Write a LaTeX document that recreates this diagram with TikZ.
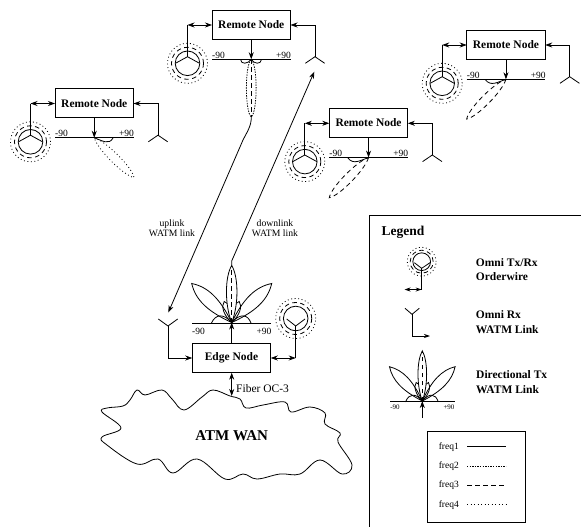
\documentclass[tikz,border=0pt]{standalone}
\usepackage{fontspec}
\setmainfont{Liberation Serif}
\usetikzlibrary{arrows.meta,calc}
\newcommand{\szbox}{\fontsize{11.5}{13}\selectfont\bfseries}
\tikzset{
  wire/.style={line width=0.8pt,black},
  tipped/.style={wire,{Stealth[length=7pt,width=5pt,inset=2.2pt]}-},
  tippedr/.style={wire,-{Stealth[length=7pt,width=5pt,inset=2.2pt]}},
  tippedb/.style={wire,{Stealth[length=7pt,width=5pt,inset=2.2pt]}-{Stealth[length=7pt,width=5pt,inset=2.2pt]}},
  nodebox/.style={draw,line width=0.9pt,minimum width=78.5pt,minimum height=29.4pt,inner sep=0pt,outer sep=0pt,font=\szbox},
  deg/.style={font=\fontsize{9.5}{10}\selectfont,inner sep=0pt},
  small/.style={font=\fontsize{9.7}{10}\selectfont,inner sep=0pt,align=center},
  legtext/.style={font=\szbox,inner sep=0pt,anchor=west},
  fstwo/.style={wire,dash pattern=on 1.4pt off 1.2pt},
  fsthree/.style={wire,dash pattern=on 4.5pt off 3.5pt},
  fsfour/.style={wire,dash pattern=on 0.9pt off 2.6pt},
}
\newcommand{\lobepath}[5]{(#1) .. controls ($(#1)!#4!(#2)!#3!90:(#2)$) and ($(#1)!#5!(#2)!#3!90:(#2)$) .. (#2) .. controls ($(#1)!#5!(#2)!#3!-90:(#2)$) and ($(#1)!#4!(#2)!#3!-90:(#2)$) .. (#1)}
\newcommand{\rings}[2]{%
  \draw[fsfour] (#1) circle (#2*20pt);
  \draw[fsthree] (#1) circle (#2*16pt);
  \draw[wire] (#1) circle (#2*12.3pt);
}
\newcommand{\remote}[4]{%
\begin{scope}[shift={(#2,#3)}]
  \node[nodebox] (#1) at (39.25,14.7) {Remote Node};
  \coordinate (#1-omni) at (-24.5,53.3);
  \coordinate (#1-oj) at (-24.5,46.7);
  \coordinate (#1-ot) at (-24.5,15);
  \coordinate (#1-aj) at (103,46.7);
  \coordinate (#1-at) at (103,15);
  \coordinate (#1-base) at (39.25,49.3);
  \rings{#1-omni}{1}
  \draw[wire] (-36.5,53.3) -- (#1-oj) -- (-12.5,53.3);
  \draw[tippedb] (#1.west |- #1-ot) -- (#1-ot);
  \draw[wire] (#1-ot) -- (#1-oj);
  \draw[tipped] (#1.east |- #1-at) -- (#1-at) -- (#1-aj);
  \draw[wire] (93.3,53.3) -- (#1-aj) -- (112.7,53.3);
  \draw[wire] (0,49.3) -- (78.5,49.3);
  \draw[tippedr] (#1.south) -- (#1-base);
  \node[deg] (#1-m) at (6.5,45) {-90};
  \node[deg] (#1-p) at (71.5,45) {+90};
  #4
\end{scope}}
% #1 name, #2 width factor
\newcommand{\directional}[2]{%
  \coordinate (#1-tip) at (0,-57);
  \coordinate (#1-o) at (0,0);
  \coordinate (#1-l) at (-40,-39);
  \coordinate (#1-r) at (40,-39);
  \coordinate (#1-il) at (-7.5,-21);
  \coordinate (#1-ir) at (7.5,-21);
  \draw[wire] \lobepath{#1-o}{#1-il}{#2*5pt}{.4}{.85};
  \draw[wire] \lobepath{#1-o}{#1-ir}{#2*5pt}{.4}{.85};
  \draw[wire,fill=white] \lobepath{#1-o}{#1-tip}{#2*7pt}{.3}{.8};
  \draw[fsthree] (#1-o) -- (#1-tip);
  \draw[wire] \lobepath{#1-o}{#1-l}{#2*9pt}{.45}{.75};
  \draw[wire] \lobepath{#1-o}{#1-r}{#2*9pt}{.45}{.75};
  \draw[wire] (#1-o) .. controls (-8,-9) and (-16,-9) .. (-20.5,1);
  \draw[wire] (#1-o) .. controls (8,-9) and (16,-9) .. (19.5,1);
}
\begin{document}
\begin{tikzpicture}[x=1pt,y=-1pt]
\useasboundingbox (0,0) rectangle (581,527);
\remote{top}{212}{10}{
  \coordinate (top-tip) at (39.25,107);
  \draw[fstwo] \lobepath{top-base}{top-tip}{6.5pt}{.1}{.9};
  \draw[fsthree] (top-base) -- (top-tip);
  \draw[wire] (top-base) .. controls (36,54) and (29,55) .. (28.5,49.3);
  \draw[wire] (top-base) .. controls (42,54) and (49,55) .. (49.5,49.3);
}
\remote{left}{55}{88.5}{
  \coordinate (left-tip) at (79,89);
  \draw[fsfour] \lobepath{left-base}{left-tip}{6pt}{.2}{.85};
  \draw[wire] (left-base) .. controls (47,52) and (54,57) .. (58,49.5);
}
\remote{right}{466.7}{30}{
  \coordinate (right-tip) at (0,89);
  \draw[fsthree] \lobepath{right-base}{right-tip}{6pt}{.2}{.85};
  \draw[wire] (right-base) .. controls (31,52) and (24,57) .. (18.5,49.5);
}
\remote{mid}{329.3}{108.3}{
  \coordinate (mid-tip) at (0,89.4);
  \draw[fsthree] \lobepath{mid-base}{mid-tip}{6pt}{.2}{.85};
  \draw[wire] (mid-base) .. controls (31,52) and (24,57) .. (18.5,49.5);
}
\node[nodebox] (edge) at (231.5,358) {Edge Node};
\begin{scope}[shift={(231.7,322.5)}]
  \directional{e}{1}
\end{scope}
\draw[wire,line width=1pt] (192.3,323.7) -- (270.7,323.7);
\node[deg] (em) at (198.5,331) {-90};
\node[deg] (ep) at (264,331) {+90};
\draw[tippedr] (edge.north -| e-o) -- (e-o);
\coordinate (eo) at (295.7,318.5);
\coordinate (eoj) at (295.7,326);
\coordinate (eos) at (295.7,358);
\rings{eo}{1}
\draw[wire] (286.7,319) -- (eoj) -- (305,319);
\draw[wire] (eoj) -- (eos);
\draw[tippedb] (edge.east |- eos) -- (eos);
\coordinate (ea) at (168,326);
\coordinate (eas) at (168,358);
\draw[wire] (158.3,319) -- (ea) -- (177.7,319);
\draw[tippedr] (ea) -- (eas) -- (edge.west |- eas);
\coordinate (ulend) at (168.3,312.5);
\coordinate (dlend) at (314.3,71.7);
\draw[tippedr] (top-tip) .. controls (251.5,126) and (247,132) .. (243,140) -- (ulend);
\draw[tippedr] (e-tip) -- (231.7,261) -- (dlend);
\node[small] (ullab) at (172,228) {uplink\\WATM link};
\node[small] (dllab) at (275,228) {downlink\\WATM link};
\draw[wire] plot[smooth cycle,tension=0.62] coordinates {
 (130,400) (137,390) (145,395) (162,390) (172,399) (184,410) (202,397) (213,390)
 (230,396) (240,399) (246,408) (263,405) (285,402) (291,412) (310,407) (325,413)
 (325,424) (340,433) (338,442) (352,465) (342,474) (320,460) (300,474) (280,474)
 (257,479) (243,474) (225,479) (197,459) (173,473) (158,459) (137,464) (107,445)
 (102,437) (121,428) (102,412) (107,408) (123,406)};
\draw[tippedb] (edge.south -| e-o) -- (231.7,396);
\node[inner sep=0pt,anchor=west,font=\fontsize{11.5}{13}\selectfont] (fib) at (236,389) {Fiber OC-3};
\node[inner sep=0pt,font=\fontsize{15}{17}\selectfont\bfseries] (wan) at (231.7,435.7) {ATM WAN};
\coordinate (lgtr) at (581,215.7);
\coordinate (lgtl) at (369,215.7);
\coordinate (lgbl) at (369,527);
\draw[line width=1pt] (lgtr) -- (lgtl) -- (lgbl);
\node[inner sep=0pt,anchor=west,font=\fontsize{13.5}{15}\selectfont\bfseries] (lgt) at (381.5,232) {Legend};
\coordinate (lo) at (421.7,261.7);
\coordinate (loj) at (421.7,268.3);
\coordinate (los) at (421.7,289.5);
\rings{lo}{0.72}
\draw[wire] (414.3,262.7) -- (loj) -- (430,262.7);
\draw[wire] (loj) -- (los);
\draw[wire,{Stealth[length=6pt,width=4pt]}-{Stealth[length=6pt,width=4pt]}] (404.5,289.5) -- (los);
\node[legtext] (l1a) at (475.7,262.7) {Omni Tx/Rx};
\node[legtext] (l1b) at (475.7,276.7) {Orderwire};
\coordinate (lr) at (412,314.3);
\coordinate (lrs) at (412,336);
\coordinate (lre) at (430,336);
\draw[wire] (405,308.3) -- (lr) -- (419.3,308.3);
\draw[wire,-{Stealth[length=6pt,width=4pt]}] (lr) -- (lrs) -- (lre);
\node[legtext] (l2a) at (475.7,314.3) {Omni Rx};
\node[legtext] (l2b) at (475.7,329.3) {WATM Link};
\begin{scope}[shift={(422.3,401)},x=0.82pt,y=-0.88pt]
  \directional{d}{0.82}
\end{scope}
\draw[wire,line width=1pt] (390,401) -- (455,401);
\coordinate (dfeed) at (422.3,418);
\draw[tippedr] (dfeed) -- (d-o);
\node[font=\fontsize{7}{8}\selectfont,inner sep=0pt] (dm) at (395,407.5) {-90};
\node[font=\fontsize{7}{8}\selectfont,inner sep=0pt] (dp) at (449,407.5) {+90};
\node[legtext] (l3a) at (476,375) {Directional Tx};
\node[legtext] (l3b) at (476,390) {WATM Link};
\node[draw,line width=0.9pt,minimum width=98.4pt,minimum height=90.3pt,inner sep=0pt,outer sep=0pt] (key) at (476.5,476.85) {};
\tikzset{klab/.style={inner sep=0pt,anchor=east,font=\fontsize{9.5}{11}\selectfont}}
\node[klab] (k1) at (459,447) {freq1};
\node[klab] (k2) at (459,466) {freq2};
\node[klab] (k3) at (459,485) {freq3};
\node[klab] (k4) at (459,505) {freq4};
\foreach \k/\y/\s in {1/446.5/wire,2/466/fstwo,3/485/fsthree,4/504.5/fsfour}{
  \coordinate (ks\k) at (467,\y);
  \coordinate (ke\k) at (506,\y);
  \draw[\s] (ks\k) -- (ke\k);
}
\end{tikzpicture}
\end{document}
